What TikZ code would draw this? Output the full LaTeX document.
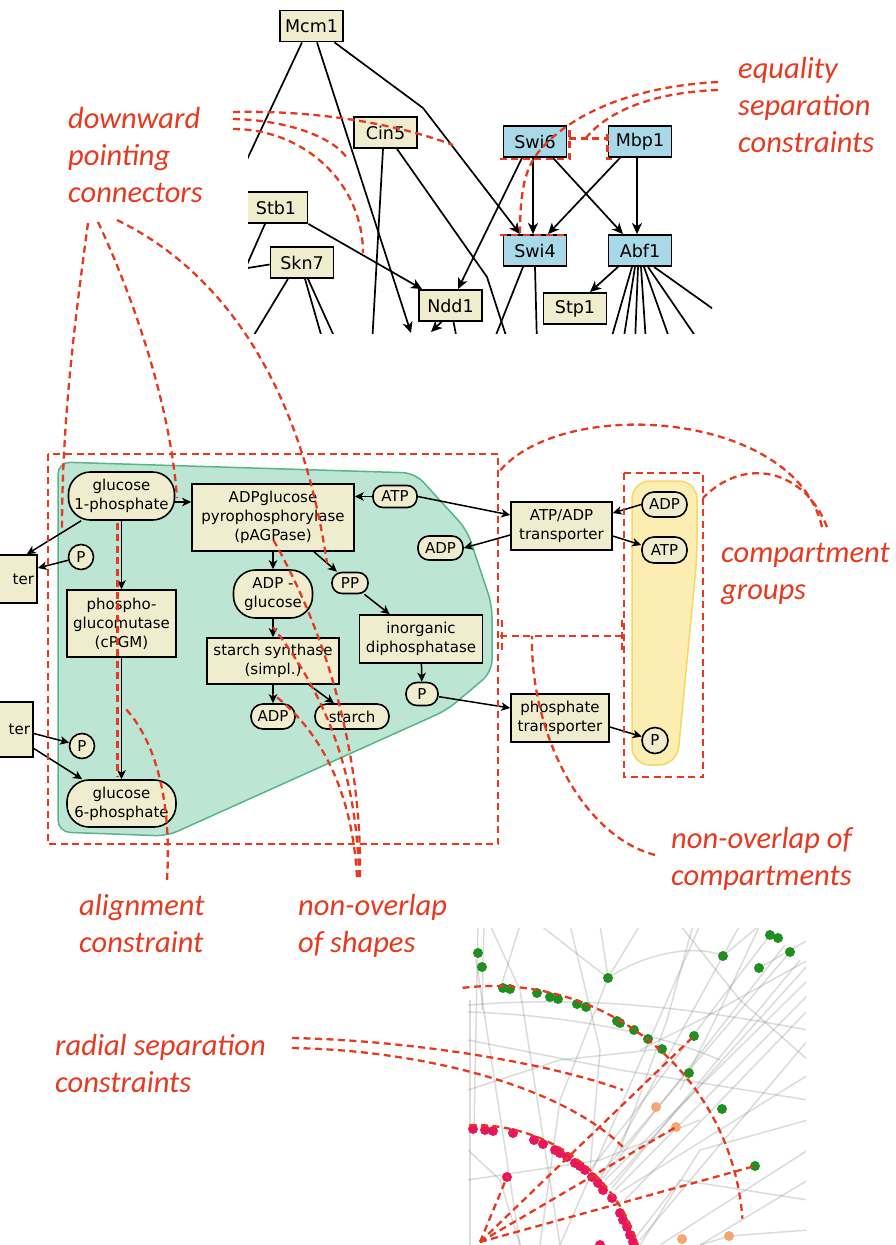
\documentclass[tikz,border=0pt]{standalone}
\usepackage{fontspec}
\setmainfont{DejaVu Sans}
\newfontfamily\notefont{Carlito}
\usetikzlibrary{arrows.meta,calc}

\definecolor{boxfill}{HTML}{F0EDCF}
\definecolor{tfblue}{HTML}{A9D8E8}
\definecolor{cytofill}{HTML}{BDE5D4}
\definecolor{cytoline}{HTML}{58B48C}
\definecolor{plastfill}{HTML}{FCEEB2}
\definecolor{plastline}{HTML}{F3D862}
\definecolor{anno}{HTML}{E8391F}
\definecolor{gdot}{HTML}{1F8F1F}
\definecolor{odot}{HTML}{F6A673}
\definecolor{pdot}{HTML}{E8175C}
\definecolor{edgegrey}{HTML}{8A8A8A}

\begin{document}
\begin{tikzpicture}[x=1pt,y=-1pt,
  gbox/.style={draw=black,line width=1.8pt,fill=boxfill,inner sep=0pt,
    minimum width=63pt,minimum height=31pt,font=\fontsize{17.5}{20}\selectfont},
  tfbox/.style={gbox,fill=tfblue},
  garr/.style={line width=1.7pt,-{Stealth[length=11pt,width=10pt,inset=3pt]}},
  gline/.style={line width=1.7pt},
  mbox/.style={draw=black,line width=1.6pt,fill=boxfill,inner sep=0pt,align=center,
    font=\fontsize{15}{19}\selectfont},
  metab/.style={mbox,rounded corners=#1},
  metab/.default=10pt,
  pcirc/.style={mbox,circle,minimum size=#1},
  pcirc/.default=25pt,
  marr/.style={line width=1.5pt,-{Stealth[length=9pt,width=8.5pt,inset=2.5pt]}},
  redd/.style={draw=anno,line width=2.3pt,dash pattern=on 7pt off 4.5pt},
  lbl/.style={text=anno,inner sep=0pt,align=left,anchor=base west,
    font=\notefont\itshape\fontsize{30.5}{37}\selectfont},
  faint/.style={draw=edgegrey,line width=1.5pt,opacity=0.3}]

\useasboundingbox (0,0) rectangle (896,1245);
\fill[white] (0,0) rectangle (896,1245);

%% ---------------- transcription network (top) ----------------
\begin{scope}
  \clip (248,0) rectangle (712,333);
  \node[gbox] (mcm) at (311.5,26) {Mcm1};
  \node[gbox] (cin) at (385.5,132.5) {Cin5};
  \node[tfbox] (swi6) at (535,141.5) {Swi6};
  \node[tfbox] (mbp) at (640,141.5) {Mbp1};
  \node[gbox] (stb) at (276,207.5) {Stb1};
  \node[gbox] (skn) at (302,262.5) {Skn7};
  \node[tfbox] (swi4) at (535,250.5) {Swi4};
  \node[tfbox] (abf) at (640,250.5) {Abf1};
  \node[gbox] (ndd) at (450.5,305.5) {Ndd1};
  \node[gbox] (stp) at (575,308.5) {Stp1};

  \coordinate (offA) at (228,200);
  \coordinate (offB) at (411,333);
  \coordinate (bendA) at (423,108);
  \coordinate (offC) at (372,345);
  \coordinate (bendB) at (487,277);
  \coordinate (offD) at (509,345);
  \coordinate (offE) at (238,285);
  \coordinate (offF) at (235,270);
  \coordinate (offG) at (248,345);
  \coordinate (offH) at (324,345);
  \coordinate (offI) at (338,345);
  \coordinate (offJ) at (431,332);
  \coordinate (offK) at (458,345);
  \coordinate (offL) at (492,345);
  \coordinate (offM) at (537,345);
  \coordinate (fan1) at (610,343);
  \coordinate (fan2) at (623,343);
  \coordinate (fan3) at (635,343);
  \coordinate (fan4) at (646,343);
  \coordinate (fan5) at (671,343);
  \coordinate (fan6) at (700,343);
  \coordinate (fan7) at (730,321);

  \draw[gline] ($(mcm.south)+(-9.5,0)$) -- (offA);
  \draw[garr] ($(mcm.south)+(5.5,0)$) -- (offB);
  \draw[garr] ($(mcm.south)+(23,0)$) -- (bendA) -- ($(swi4.north)+(-15,0)$);
  \draw[gline] ($(cin.south)+(-2.5,0)$) -- (offC);
  \draw[gline] ($(cin.south)+(11.5,0)$) -- (bendB) -- (offD);
  \draw[garr] (stb.south east) -- ($(ndd.north west)+(4,0)$);
  \draw[gline] ($(stb.south)+(-11,0)$) -- (offE);
  \draw[gline] ($(skn.west)+(0,2)$) -- (offF);
  \draw[gline] ($(skn.south)+(-14,0)$) -- (offG);
  \draw[gline] ($(skn.south)+(3,0)$) -- (offH);
  \draw[gline] ($(skn.south)+(6,0)$) -- (offI);
  \draw[garr] ($(ndd.south)+(-9,0)$) -- (offJ);
  \draw[gline] ($(ndd.south)+(3,0)$) -- (offK);
  \draw[garr] ($(swi6.south)+(-13,0)$) -- ($(ndd.north)+(7.5,0)$);
  \draw[garr] ($(swi6.south)+(-2,0)$) -- ($(swi4.north)+(-2,0)$);
  \draw[garr] ($(swi6.south)+(18,0)$) -- ($(abf.north)+(-17,0)$);
  \draw[garr] ($(mbp.south)+(-20,0)$) -- ($(swi4.north)+(13,0)$);
  \draw[garr] ($(mbp.south)+(-3,0)$) -- ($(abf.north)+(-3,0)$);
  \draw[garr] ($(abf.south)+(-22,0)$) -- ($(stp.north)+(15,0)$);
  \draw[gline] ($(swi4.south)+(-12,0)$) -- (offL);
  \draw[gline] ($(swi4.south)+(0,0)$) -- (offM);
  \draw[gline] ($(abf.south)+(-8,0)$) -- (fan1);
  \draw[gline] ($(abf.south)+(-5,0)$) -- (fan2);
  \draw[gline] ($(abf.south)+(-2,0)$) -- (fan3);
  \draw[gline] ($(abf.south)+(1,0)$) -- (fan4);
  \draw[gline] ($(abf.south)+(4,0)$) -- (fan5);
  \draw[gline] ($(abf.south)+(8,0)$) -- (fan6);
  \draw[gline] ($(abf.south)+(14,0)$) -- (fan7);
  % boxes drawn again on top of the edges
  \node[gbox] at (mcm) {Mcm1};
  \node[gbox] at (cin) {Cin5};
  \node[tfbox] at (swi6) {Swi6};
  \node[tfbox] at (mbp) {Mbp1};
  \node[gbox] at (stb) {Stb1};
  \node[gbox] at (skn) {Skn7};
  \node[tfbox] at (swi4) {Swi4};
  \node[tfbox] at (abf) {Abf1};
  \node[gbox] at (ndd) {Ndd1};
  \node[gbox] at (stp) {Stp1};
\end{scope}

%% ---------------- metabolic pathway (middle) ----------------
% compartment hulls
\filldraw[fill=cytofill,draw=cytoline,line width=1.5pt,rounded corners=12pt]
  (58,462) -- (415,473) -- (467,530) -- (492,605) -- (492,672) -- (447,710)
  -- (167,836) -- (58,832) -- cycle;
\filldraw[fill=plastfill,draw=plastline,line width=1.5pt,rounded corners=18pt]
  (632,481) -- (697,481) -- (697,557) -- (677,765) -- (632,765) -- cycle;

\begin{scope}
  \clip (0,440) rectangle (896,860);
  \node[metab=22pt,minimum width=106pt,minimum height=48pt] (g1p) at (121.5,496) {glucose\\1-phosphate};
  \node[pcirc] (pA) at (81,557) {P};
  \node[mbox,minimum width=60pt,minimum height=48pt,text width=54pt,align=right] (terA) at (7,579) {ter};
  \node[mbox,minimum width=109pt,minimum height=67pt] (cpgm) at (121.5,623.5) {phospho-\\glucomutase\\(cPGM)};
  \node[mbox,minimum width=60pt,minimum height=55pt,text width=54pt,align=right] (terB) at (3,729.5) {ter};
  \node[pcirc] (pB) at (82,746) {P};
  \node[metab=22pt,minimum width=109pt,minimum height=47pt] (g6p) at (121.5,803.5) {glucose\\6-phosphate};
  \node[mbox,minimum width=162pt,minimum height=67pt] (pag) at (273,517.5) {ADPglucose\\pyrophosphorylase\\(pAGPase)};
  \node[metab=10pt,minimum width=44pt,minimum height=22pt] (atpA) at (395,496.5) {ATP};
  \node[metab=11pt,minimum width=45pt,minimum height=24pt] (adpA) at (440.5,548) {ADP};
  \node[metab=22pt,minimum width=79pt,minimum height=48pt] (adpg) at (273,594) {ADP -\\glucose};
  \node[metab=10pt,minimum width=36pt,minimum height=21pt] (ppn) at (350,583) {PP};
  \node[mbox,minimum width=123pt,minimum height=48pt] (inorg) at (421,639) {inorganic\\diphosphatase};
  \node[mbox,minimum width=132pt,minimum height=46pt] (ss) at (273,661) {starch synthase\\(simpl.)};
  \node[metab=12pt,minimum width=44pt,minimum height=25pt] (adpB) at (273,716.5) {ADP};
  \node[metab=12pt,minimum width=74pt,minimum height=25pt] (starch) at (352,716.5) {starch};
  \node[metab=11pt,minimum width=32pt,minimum height=23pt] (pC) at (422,694) {P};
  \node[mbox,minimum width=101pt,minimum height=48pt] (aat) at (561.5,526) {ATP/ADP\\transporter};
  \node[mbox,minimum width=98pt,minimum height=48pt] (ptr) at (560,718) {phosphate\\transporter};
  \node[metab=12pt,minimum width=45pt,minimum height=25pt] (adpC) at (664.5,504.5) {ADP};
  \node[metab=12pt,minimum width=45pt,minimum height=26pt] (atpC) at (664.5,550) {ATP};
  \node[pcirc=26pt] (pD) at (655,740.5) {P};

  \draw[marr] (g1p) -- ($(terA.north east)+(-11,0)$);
  \draw[marr] (pA) -- ($(terA.east)+(0,-11)$);
  \draw[marr] ($(terB.east)+(0,4)$) -- (pB);
  \draw[marr] ($(terB.east)+(0,19)$) -- ($(g6p.north west)+(16,0)$);
  \draw[marr] (g1p) -- (cpgm);
  \draw[marr] (cpgm) -- (g6p);
  \draw[marr] ($(g1p.east)+(0,6)$) -- ($(pag.west |- g1p.east)+(0,6)$);
  \draw[marr] (atpA.west) -- (pag.east |- atpA.west);
  \draw[marr] (atpA.east) -- ($(aat.west)+(0,-11)$);
  \draw[marr] ($(aat.west)+(0,9)$) -- (adpA.east);
  \draw[marr] (adpC.west) -- ($(aat.east)+(0,-13)$);
  \draw[marr] ($(aat.east)+(0,10)$) -- ($(atpC.west)+(0,-5)$);
  \draw[marr] (pag) -- (adpg);
  \draw[marr] ($(pag.south)+(41,0)$) -- (ppn);
  \draw[marr] (ppn) -- ($(inorg.north west)+(31,0)$);
  \draw[marr] (adpg) -- (ss);
  \draw[marr] (ss) -- (adpB);
  \draw[marr] ($(ss.south)+(36,0)$) -- (starch);
  \draw[marr] (inorg) -- (pC);
  \draw[marr] (pC) -- ($(ptr.west)+(0,-10)$);
  \draw[marr] ($(ptr.east)+(0,9)$) -- (pD);
\end{scope}

%% ---------------- radial layout (bottom) ----------------
\begin{scope}
  \clip (468,928) rectangle (806,1245);
  \foreach \p/\q in {{(478,925)}/{(474,1128)}, {(484,925)}/{(482,1010)},
      {(470,1000)}/{(470,1245)}, {(476,960)}/{(520,1245)}, {(520,925)}/{(500,990)},
      {(540,925)}/{(608,978)}, {(610,1185)}/{(808,965)}, {(605,1180)}/{(808,980)},
      {(615,1190)}/{(808,995)}, {(600,1175)}/{(790,952)}, {(590,1170)}/{(770,935)},
      {(625,1200)}/{(808,1010)}, {(640,1240)}/{(808,1040)}, {(700,1245)}/{(808,1180)},
      {(660,1245)}/{(808,1150)}, {(723,956)}/{(760,925)}, {(759,968)}/{(808,940)},
      {(620,1192)}/{(808,1075)}, {(598,1183)}/{(740,925)}, {(560,1245)}/{(700,925)},
      {(612,1188)}/{(800,960)}, {(603,1178)}/{(785,945)}}
    \draw[faint] \p -- \q;
  \draw[faint] (490,925) -- (520,990) -- (560,1245);
  \draw[faint] (600,925) -- (608,978) -- (640,925);
  \draw[faint] (608,978) -- (560,1100) -- (540,1245);
  \draw[faint] (693,925) -- (667,1020) -- (620,1150);
  \draw[faint] (468,1005) .. controls (600,995) and (700,1010) .. (808,1030);
  \draw[faint] (468,1012) .. controls (560,1015) and (650,1030) .. (720,1060);
  \draw[faint] (468,1040) -- (620,1070) -- (808,1100);
  \draw[faint] (640,1245) -- (700,1150) -- (808,1120);
  \draw[faint] (680,925) -- (740,1000) -- (808,1060);
  \draw[faint] (468,1180) -- (600,1160) -- (700,1120);
  \draw[faint] (520,1245) -- (500,1180) -- (468,1150);
  \draw[faint] (630,1245) -- (680,1180) -- (808,1200);
  \draw[faint] (700,1245) -- (730,1236) -- (808,1230);
  \draw[faint] (570,925) -- (600,1050) -- (590,1170);
  \draw[faint] (760,925) -- (720,1010) -- (680,1090);
  \draw[faint] (808,960) -- (700,1020) -- (640,1050);
  \draw[faint] (468,1090) -- (560,1060) -- (660,1049);
  \draw[faint] (608,978) .. controls (650,950) and (700,945) .. (723,956);
  \foreach \pt in {(478,953),(482,967),(503,988),(510,989),(537,993),(550,997),
      (558,999),(577,1004),(586,1007),(617,1021),(620,1023),(634,1030),(648,1039),
      (662,1049),(694,1036),(689,1073),(608,978),(723,956),(759,968),(770,935),
      (778,938),(790,952),(722,1109),(755,1166)}
    \fill[gdot] \pt circle[radius=5];
  \foreach \pt in {(656,1107),(676,1127),(682,1239),(729,1236)}
    \fill[odot] \pt circle[radius=5];
  \foreach \pt in {(473,1129),(485,1130),(493,1131),(513,1133),(534,1140),(543,1144),
      (555,1150),(560,1153),(567,1157),(575,1163),(580,1166),(585,1170),(592,1177),
      (598,1183),(603,1190),(612,1198),(620,1213),(623,1220),(627,1227),(630,1235),
      (633,1242),(507,1177),(600,1245)}
    \fill[pdot] \pt circle[radius=5];
\end{scope}

%% ---------------- constraint annotations ----------------
% end points of the annotation curves
\coordinate (eqA) at (718,82);
\coordinate (eqB) at (718,90);
\coordinate (dwA) at (233,112);
\coordinate (dwB) at (233,119);
\coordinate (dwC) at (233,129);
\coordinate (dwD) at (88,223);
\coordinate (dwE) at (98,222);
\coordinate (dwF) at (117,220);
\coordinate (tgA) at (453,145);
\coordinate (tgB) at (347,158);
\coordinate (tgC) at (363,253);
\coordinate (tgD) at (62,530);
\coordinate (tgE) at (177,498);
\coordinate (tgF) at (327,563);
\coordinate (alA) at (167,880);
\coordinate (alB) at (125,708);
\coordinate (soA) at (360,877);
\coordinate (soB) at (359,877);
\coordinate (soC) at (357,877);
\coordinate (cgA) at (822,527);
\coordinate (cgB) at (827,527);
\coordinate (coA) at (655,855);
\coordinate (rsA) at (292,1038);
\coordinate (rsB) at (292,1048);
\coordinate (rsC) at (623,1090);
\coordinate (rsD) at (623,1147);
\coordinate (rc) at (480,1242);
\coordinate (ringc) at (474,1297);
\coordinate (outc) at (493,1236);
\coordinate (dA) at (507,1177);
\coordinate (dB) at (694,1036);
\coordinate (dC) at (676,1127);
\coordinate (dD) at (755,1166);

% equality separation constraints
\draw[redd] ($(swi6.south west)+(-3,1)$) -- ($(swi6.south east)+(2,1)$) -- ($(swi6.north east)+(2,2)$);
\draw[redd] ($(swi6.east)+(2,-3)$) -- ($(mbp.west)+(0,-3)$);
\draw[redd] ($(mbp.west)+(0,-8)$) -- ($(mbp.south west)+(0,1)$) -- ($(mbp.south west)+(8,1)$);
\draw[redd] ($(swi4.north west)+(-3,1)$) -- ($(swi4.north east)+(1,1)$);
\draw[redd] (eqA) .. controls (640,86) and (575,110) .. (540,150)
  .. controls (525,168) and (520,190) .. ($(swi4.north)+(-15,1)$);
\draw[redd] (eqB) .. controls (660,92) and (610,108) .. ($(swi6.east)!0.45!(mbp.west)+(0,-3)$);

% downward pointing connectors
\draw[redd] (dwA) .. controls (320,110) and (400,125) .. (tgA);
\draw[redd] (dwB) .. controls (285,120) and (332,136) .. (tgB);
\draw[redd] (dwC) .. controls (305,129) and (363,184) .. (tgC);
\draw[redd] (dwD) .. controls (75,320) and (62,420) .. (tgD);
\draw[redd] (dwE) .. controls (130,290) and (170,400) .. (tgE);
\draw[redd] (dwF) .. controls (220,270) and (300,380) .. (tgF);

% compartments
\draw[redd] (48,454) rectangle (498,844);
\draw[redd] (624,473) rectangle (703,777);
\draw[redd] (500,636) -- (624,636);
\draw[redd] (502,620) -- (502,650);
\draw[redd] (622,620) -- (622,650);
\draw[redd] (cgA) .. controls (795,410) and (560,395) .. (498,473);
\draw[redd] (cgB) .. controls (805,470) and (745,455) .. (703,498);
\draw[redd] (coA) .. controls (580,835) and (530,730) .. (532,636);

% alignment
\draw[redd] ($(g1p.south)+(-4,2)$) -- ($(g6p.north)+(-4,-2)$);
\draw[redd] (alA) .. controls (172,800) and (155,740) .. (alB);

% non-overlap of shapes
\draw[redd] (soA) .. controls (362,760) and (330,640) .. ($(adpg.north)+(0,-30)$);
\draw[redd] (soB) .. controls (357,780) and (330,700) .. ($(ss.north)+(0,-10)$);
\draw[redd] (soC) .. controls (352,790) and (320,730) .. ($(adpB.north)+(0,-9)$);

% radial separation constraints
\draw[redd] (rsA) .. controls (400,1040) and (540,1060) .. (rsC);
\draw[redd] (rsB) .. controls (420,1050) and (560,1085) .. (rsD);
\begin{scope}
  \clip (440,900) rectangle (896,1245);
  \draw[redd] ($(ringc)+(-91.5:172)$) arc[start angle=-91.5,end angle=-17,radius=172];
  \draw[redd] ($(outc)+(-97:250)$) arc[start angle=-97,end angle=-4,radius=250];
  \draw[redd] (rc) -- (dA);
  \draw[redd] (rc) -- (dB);
  \draw[redd] (rc) -- (dC);
  \draw[redd] (rc) -- (dD);
\end{scope}

% labels (anchored at the baseline of their last line)
\node[lbl] (labDown) at (68,202) {downward\\pointing\\connectors};
\node[lbl] (labEq) at (738,152) {equality\\separation\\constraints};
\node[lbl] (labCg) at (721,599) {compartment\\groups};
\node[lbl] (labCo) at (671,885) {non-overlap of\\compartments};
\node[lbl] (labAl) at (79,952) {alignment\\constraint};
\node[lbl] (labSo) at (298,952) {non-overlap\\of shapes};
\node[lbl] (labRs) at (55,1092) {radial separation\\constraints};
\end{tikzpicture}
\end{document}
